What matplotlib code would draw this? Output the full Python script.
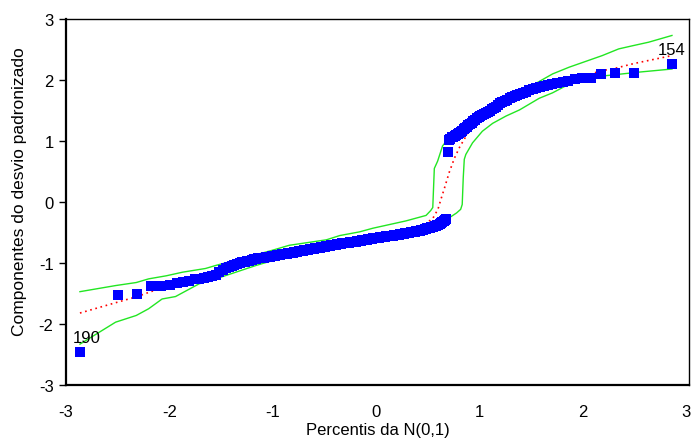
import matplotlib
matplotlib.use("Agg")
import matplotlib.pyplot as plt
from statistics import NormalDist

plt.rcParams['font.family'] = ['Liberation Sans', 'DejaVu Sans']
plt.rcParams['axes.unicode_minus'] = False

resid_low = [
    -2.46, -1.52, -1.50, -1.37, -1.37, -1.355, -1.33, -1.31, -1.29, -1.27,
    -1.26, -1.24, -1.23, -1.22, -1.20, -1.14, -1.12, -1.09, -1.07, -1.05,
    -1.04, -1.02, -1.00, -0.99, -0.98, -0.97, -0.96, -0.95, -0.94, -0.93,
    -0.925, -0.92, -0.915, -0.91, -0.905, -0.90, -0.895, -0.89, -0.885, -0.88,
    -0.875, -0.87, -0.865, -0.86, -0.855, -0.85, -0.846, -0.842, -0.837, -0.832,
    -0.828, -0.823, -0.819, -0.815, -0.811, -0.807, -0.802, -0.798, -0.794, -0.790,
    -0.786, -0.782, -0.778, -0.774, -0.770, -0.766, -0.762, -0.758, -0.754, -0.750,
    -0.746, -0.742, -0.738, -0.734, -0.730, -0.726, -0.722, -0.718, -0.714, -0.710,
    -0.707, -0.704, -0.701, -0.698, -0.695, -0.692, -0.689, -0.686, -0.683, -0.680,
    -0.677, -0.675, -0.672, -0.670, -0.667, -0.665, -0.662, -0.660, -0.657, -0.655,
    -0.652, -0.649, -0.645, -0.642, -0.639, -0.636, -0.632, -0.629, -0.626, -0.622,
    -0.619, -0.616, -0.612, -0.609, -0.606, -0.603, -0.599, -0.596, -0.593, -0.590,
    -0.587, -0.585, -0.582, -0.580, -0.577, -0.575, -0.572, -0.570, -0.567, -0.565,
    -0.562, -0.560, -0.557, -0.555, -0.552, -0.550, -0.547, -0.545, -0.542, -0.540,
    -0.537, -0.533, -0.530, -0.526, -0.523, -0.519, -0.516, -0.512, -0.509, -0.505,
    -0.502, -0.498, -0.495, -0.491, -0.488, -0.484, -0.481, -0.477, -0.474, -0.470,
    -0.464, -0.458, -0.452, -0.446, -0.440, -0.434, -0.428, -0.422, -0.416, -0.410,
    -0.402, -0.394, -0.386, -0.378, -0.370, -0.360, -0.345, -0.330, -0.315, -0.300,
    -0.280,
]
resid_high = [
    0.82, 1.02, 1.04, 1.06, 1.07, 1.09, 1.10, 1.12, 1.13, 1.15,
    1.17, 1.19, 1.21, 1.23, 1.26, 1.28, 1.30, 1.33, 1.35, 1.38,
    1.40, 1.41, 1.42, 1.44, 1.46, 1.48, 1.50, 1.52, 1.54, 1.56,
    1.59, 1.62, 1.64, 1.66, 1.68, 1.70, 1.72, 1.73, 1.75, 1.77,
    1.79, 1.81, 1.83, 1.85, 1.87, 1.88, 1.90, 1.92, 1.93, 1.95,
    1.97, 1.99, 2.02, 2.04, 2.04, 2.10, 2.11, 2.11, 2.26,
]
residuals = resid_low + resid_high

# Simulated envelope: median (red dotted), lower and upper bands (green)
med_x = [-2.865, -2.497, -2.31, -2.18, -2.08, -2.0, -1.7, -1.4, -1.0, -0.5, 0.0, 0.3,
         0.45, 0.5, 0.55, 0.6, 0.63, 0.66, 0.71, 0.76, 0.81, 0.855, 0.9, 1.0, 1.26,
         1.36, 1.7, 2.0, 2.08, 2.18, 2.31, 2.497, 2.865]
med_y = [-1.82, -1.64, -1.55, -1.47, -1.42, -1.38, -1.26, -1.07, -0.89, -0.73, -0.59, -0.50,
         -0.41, -0.33, -0.27, -0.12, 0.05, 0.21, 0.49, 0.72, 0.90, 1.03, 1.17, 1.33, 1.58,
         1.66, 1.90, 2.06, 2.10, 2.15, 2.19, 2.27, 2.40]

low_x = [-2.865, -2.52, -2.32, -2.20, -2.07, -1.94, -1.71, -1.55, -1.32, -1.16, -1.0, -0.84,
         -0.5, 0.0, 0.3, 0.6, 0.69, 0.78, 0.82, 0.835, 0.845, 0.855, 0.87, 0.935, 1.03,
         1.13, 1.26, 1.39, 1.48, 1.58, 1.71, 1.90, 2.03, 2.22, 2.55, 2.865]
low_y = [-2.33, -1.97, -1.86, -1.75, -1.59, -1.55, -1.34, -1.26, -1.13, -1.04, -0.96, -0.88,
         -0.78, -0.63, -0.55, -0.40, -0.28, -0.18, -0.12, -0.04, 0.40, 0.70, 0.78, 0.97, 1.16,
         1.29, 1.41, 1.51, 1.60, 1.70, 1.79, 1.96, 2.02, 2.07, 2.13, 2.18]

up_x = [-2.865, -2.52, -2.32, -2.20, -2.03, -1.87, -1.65, -1.55, -1.26, -1.0, -0.84, -0.48,
        -0.35, -0.16, -0.03, 0.29, 0.485, 0.53, 0.55, 0.565, 0.597, 0.645, 0.71, 0.84,
        0.95, 1.16, 1.32, 1.48, 1.71, 1.87, 2.19, 2.35, 2.48, 2.64, 2.865]
up_y = [-1.47, -1.37, -1.32, -1.26, -1.21, -1.15, -1.09, -1.04, -0.91, -0.79, -0.71, -0.62,
        -0.55, -0.49, -0.43, -0.31, -0.22, -0.14, -0.09, 0.55, 0.67, 0.92, 1.06, 1.22,
        1.39, 1.61, 1.74, 1.88, 2.10, 2.21, 2.40, 2.51, 2.56, 2.62, 2.73]

labels = {"190": 0, "154": len(residuals) - 1}

x_ticks = [-3, -2, -1, 0, 1, 2, 3]
y_ticks = [-3, -2, -1, 0, 1, 2, 3]

n = len(residuals)
nd = NormalDist()
theo = [nd.inv_cdf((i - 0.5) / n) for i in range(1, n + 1)]

fig = plt.figure(figsize=(6.95, 4.39), dpi=100)
ax = fig.add_axes([66 / 695, 53 / 439, 623 / 695, 366 / 439])

green = '#22E622'
ax.plot(low_x, low_y, color=green, lw=1.0, zorder=2)
ax.plot(up_x, up_y, color=green, lw=1.0, zorder=2)
ax.plot(med_x, med_y, color='red', lw=1.2, ls=(0, (1, 2.2)), zorder=2)
ax.plot(theo, residuals, ls='none', marker='s', ms=6.9, mew=0, color='#0000FF', zorder=3)

ax.text(theo[labels["190"]] - 0.07, residuals[labels["190"]] + 0.11, "190",
        fontsize=12, ha='left', va='bottom', color='black')
ax.text(theo[labels["154"]] - 0.14, residuals[labels["154"]] + 0.11, "154",
        fontsize=12, ha='left', va='bottom', color='black')

ax.set_xlim(-3, 3.03)
ax.set_ylim(-3, 3)
ax.set_xticks(x_ticks)
ax.set_yticks(y_ticks)
ax.tick_params(axis='x', length=0, labelsize=12, pad=14)
ax.tick_params(axis='y', length=5, width=1, direction='out', labelsize=12, pad=4)
for s in ax.spines.values():
    s.set_linewidth(1.0)
ax.spines['bottom'].set_linewidth(1.6)
ax.spines['left'].set_linewidth(1.6)

ax.set_xlabel("Percentis da N(0,1)", fontsize=12, labelpad=2)
ax.set_ylabel("Componentes do desvio padronizado", fontsize=12.5)
ax.yaxis.set_label_coords(-0.063, 0.53)

fig.savefig("out.png", dpi=100)
